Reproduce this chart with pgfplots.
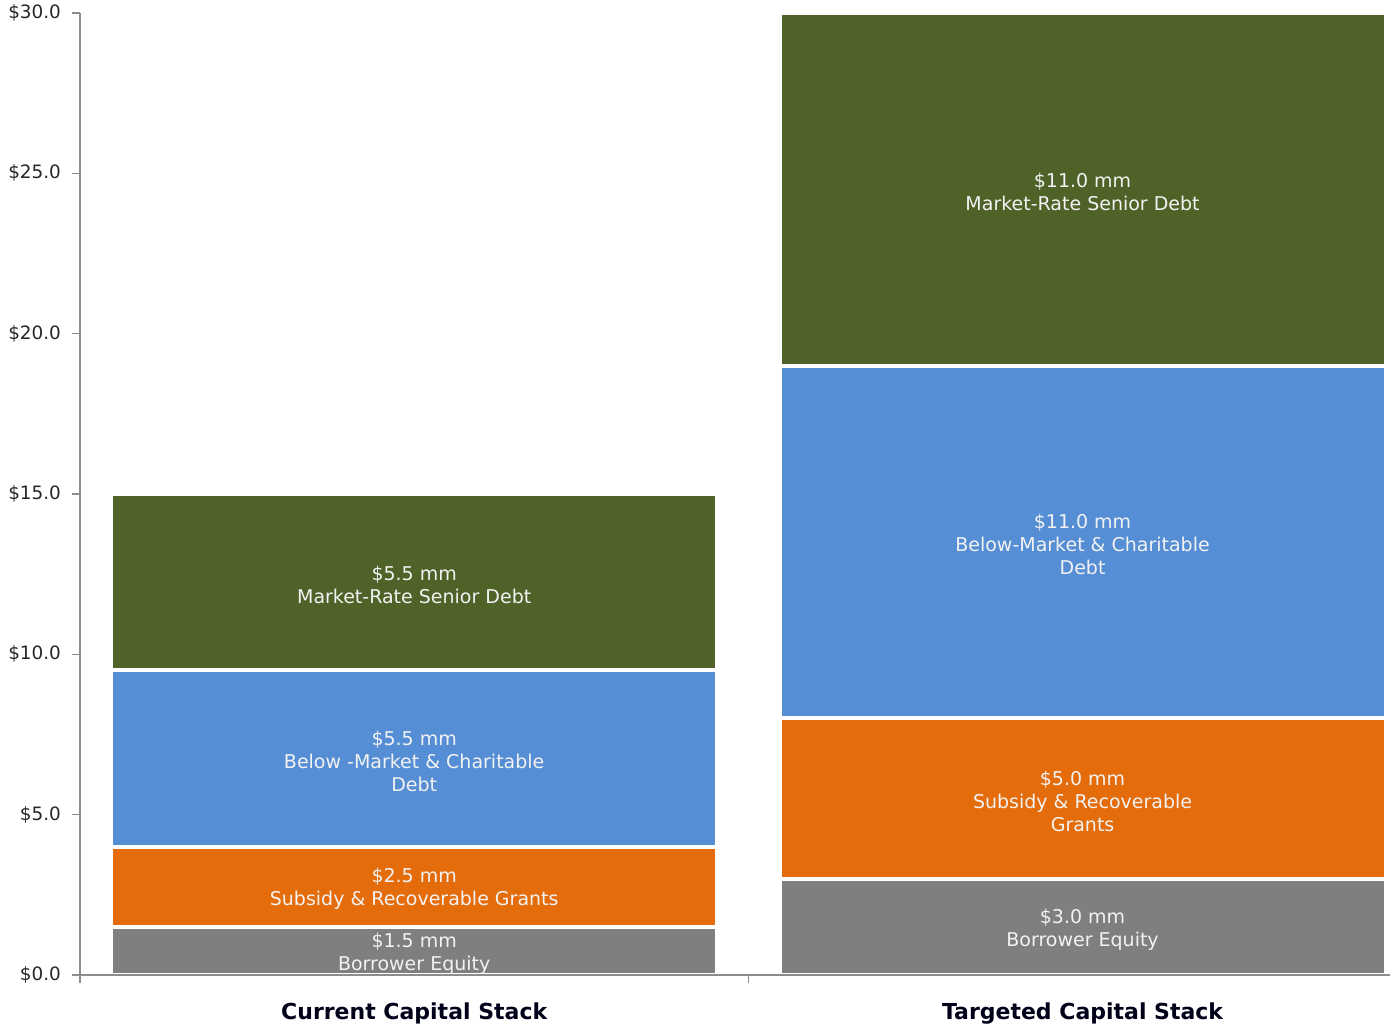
\documentclass[border=0pt]{standalone}
\usepackage{pgfplots}
\pgfplotsset{compat=1.18}
\usepackage{fontspec}
\setmainfont{DejaVu Sans}

\definecolor{eqgray}{HTML}{7F7F7F}
\definecolor{granorange}{HTML}{E46C0A}
\definecolor{belowblue}{HTML}{558ED5}
\definecolor{seniorgreen}{HTML}{4F6228}
\definecolor{axisgray}{HTML}{8C8C8C}
\definecolor{labeltext}{HTML}{F2F2F2}

\begin{document}
\begin{tikzpicture}
\useasboundingbox (0,0) rectangle (695.5pt,513pt);
\begin{axis}[
    at={(40pt,25.5pt)}, anchor=south west,
    scale only axis,
    width=655pt, height=481pt,
    ybar stacked,
    bar width=303pt,
    xmin=-0.5, xmax=1.46,
    ymin=0, ymax=30,
    axis lines*=left,
    axis line style={axisgray, line width=0.8pt},
    axis on top,
    tick align=outside,
    major tick length=4pt,
    tick style={axisgray, line width=0.8pt},
    xtick={-0.5,0.5},
    xticklabels={},
    extra x ticks={0,1},
    extra x tick labels={Current Capital Stack, Targeted Capital Stack},
    extra x tick style={major tick length=0pt,
        tick label style={font=\fontsize{11}{13}\selectfont\bfseries, text=black!90!blue, yshift=-10.5pt}},
    ytick={0,5,...,30},
    yticklabel={\$\pgfmathprintnumber[fixed,fixed zerofill,precision=1]{\tick}},
    yticklabel style={font=\fontsize{9.2}{11}\selectfont, text=black!85, xshift=-2pt},
    /pgf/number format/assume math mode=true,
    point meta=explicit symbolic,
    nodes near coords,
    every node near coord/.append style={anchor=center, yshift=-1.2pt,
        align=center, text=labeltext, font=\fontsize{9.5}{11.5}\selectfont},
    every axis plot/.append style={draw=white, line width=2pt},
]
% Borrower Equity
\addplot[fill=eqgray] coordinates {
    (0,1.5) [{\$1.5 mm\\Borrower Equity}]
    (1,3.0) [{\$3.0 mm\\Borrower Equity}]
};
% Subsidy & Recoverable Grants
\addplot[fill=granorange] coordinates {
    (0,2.5) [{\$2.5 mm\\Subsidy \& Recoverable Grants}]
    (1,5.0) [{\$5.0 mm\\Subsidy \& Recoverable\\Grants}]
};
% Below-Market & Charitable Debt
\addplot[fill=belowblue] coordinates {
    (0,5.5) [{\$5.5 mm\\Below -Market \& Charitable\\Debt}]
    (1,11.0) [{\$11.0 mm\\Below-Market \& Charitable\\Debt}]
};
% Market-Rate Senior Debt
\addplot[fill=seniorgreen] coordinates {
    (0,5.5) [{\$5.5 mm\\Market-Rate Senior Debt}]
    (1,11.0) [{\$11.0 mm\\Market-Rate Senior Debt}]
};
\end{axis}
\end{tikzpicture}
\end{document}
